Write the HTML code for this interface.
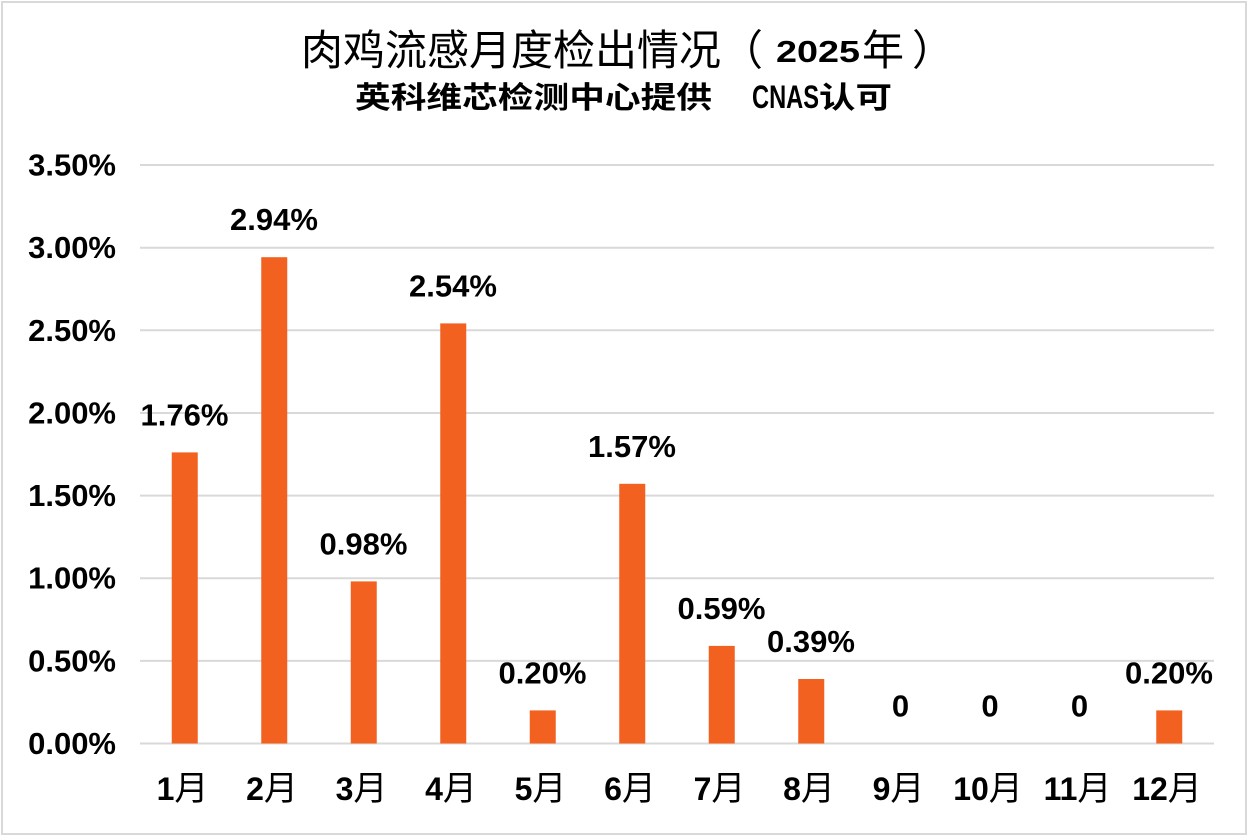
<!DOCTYPE html>
<html>
<head>
<meta charset="utf-8">
<style>
html,body{margin:0;padding:0;background:#fff;}
svg{display:block;}
.ax{font-family:"Liberation Sans","Noto Sans CJK SC",sans-serif;font-weight:700;font-size:31px;fill:#000;}
.cj{font-family:"Noto Sans CJK SC","WenQuanYi Zen Hei",sans-serif;}
</style>
</head>
<body>
<svg width="1248" height="837" viewBox="0 0 1248 837" xmlns="http://www.w3.org/2000/svg">
<rect x="0" y="0" width="1248" height="837" fill="#fff"/>
<rect x="2" y="2" width="1244" height="832" fill="none" stroke="#d9d9d9" stroke-width="2"/>

<!-- title -->
<text x="301" y="65" class="cj" font-size="42" textLength="420" lengthAdjust="spacingAndGlyphs" fill="#000">肉鸡流感月度检出情况</text>
<text x="721" y="65" class="cj" font-size="42" fill="#000">（</text>
<text x="776" y="62" font-family="'Liberation Sans',sans-serif" font-weight="700" font-size="31" textLength="84" lengthAdjust="spacingAndGlyphs" fill="#000">2025</text>
<text x="862" y="65" class="cj" font-size="42" fill="#000">年</text>
<text x="912" y="65" class="cj" font-size="42" fill="#000">）</text>

<!-- subtitle -->
<text x="355" y="108" class="cj" font-size="30" font-weight="700" textLength="357" lengthAdjust="spacingAndGlyphs" fill="#000">英科维芯检测中心提供</text>
<text x="752" y="108" font-family="'Liberation Sans',sans-serif" font-weight="700" font-size="32" textLength="67" lengthAdjust="spacingAndGlyphs" fill="#000">CNAS</text>
<text x="819" y="108" class="cj" font-size="30" font-weight="700" textLength="73" lengthAdjust="spacingAndGlyphs" fill="#000">认可</text>

<!-- gridlines -->
<g stroke="#d9d9d9" stroke-width="2">
<line x1="140" x2="1214" y1="165" y2="165"/>
<line x1="140" x2="1214" y1="247.7" y2="247.7"/>
<line x1="140" x2="1214" y1="330.3" y2="330.3"/>
<line x1="140" x2="1214" y1="413" y2="413"/>
<line x1="140" x2="1214" y1="495.6" y2="495.6"/>
<line x1="140" x2="1214" y1="578.2" y2="578.2"/>
<line x1="140" x2="1214" y1="660.9" y2="660.9"/>
<line x1="140" x2="1214" y1="743.5" y2="743.5"/>
</g>

<!-- y axis labels -->
<g class="ax" text-anchor="end">
<text x="116" y="175.5">3.50%</text>
<text x="116" y="258.2">3.00%</text>
<text x="116" y="340.8">2.50%</text>
<text x="116" y="423.5">2.00%</text>
<text x="116" y="506.1">1.50%</text>
<text x="116" y="588.7">1.00%</text>
<text x="116" y="671.4">0.50%</text>
<text x="116" y="754">0.00%</text>
</g>

<!-- bars -->
<g fill="#F26120">
<rect x="171.75" y="452.4" width="26" height="291.1"/>
<rect x="261.25" y="257.2" width="26" height="486.3"/>
<rect x="350.75" y="581.4" width="26" height="162.1"/>
<rect x="440.25" y="323.4" width="26" height="420.1"/>
<rect x="529.75" y="710.4" width="26" height="33.1"/>
<rect x="619.25" y="483.8" width="26" height="259.7"/>
<rect x="708.75" y="645.9" width="26" height="97.6"/>
<rect x="798.25" y="679" width="26" height="64.5"/>
<rect x="1156.25" y="710.4" width="26" height="33.1"/>
</g>

<!-- data labels -->
<g class="ax" text-anchor="middle">
<text x="184.5" y="425.4">1.76%</text>
<text x="274" y="230.2">2.94%</text>
<text x="363.5" y="554.4">0.98%</text>
<text x="453" y="296.4">2.54%</text>
<text x="542.5" y="683.4">0.20%</text>
<text x="632" y="456.8">1.57%</text>
<text x="721.5" y="618.9">0.59%</text>
<text x="811" y="652">0.39%</text>
<text x="900.5" y="716.5">0</text>
<text x="990" y="716.5">0</text>
<text x="1079.5" y="716.5">0</text>
<text x="1169" y="683.4">0.20%</text>
</g>

<!-- category labels -->
<g text-anchor="middle" fill="#000">
<text x="182.5" y="800"><tspan font-family="'Liberation Sans',sans-serif" font-weight="700" font-size="32">1</tspan><tspan class="cj" font-size="34">月</tspan></text>
<text x="272" y="800"><tspan font-family="'Liberation Sans',sans-serif" font-weight="700" font-size="32">2</tspan><tspan class="cj" font-size="34">月</tspan></text>
<text x="361.5" y="800"><tspan font-family="'Liberation Sans',sans-serif" font-weight="700" font-size="32">3</tspan><tspan class="cj" font-size="34">月</tspan></text>
<text x="451" y="800"><tspan font-family="'Liberation Sans',sans-serif" font-weight="700" font-size="32">4</tspan><tspan class="cj" font-size="34">月</tspan></text>
<text x="540.5" y="800"><tspan font-family="'Liberation Sans',sans-serif" font-weight="700" font-size="32">5</tspan><tspan class="cj" font-size="34">月</tspan></text>
<text x="630" y="800"><tspan font-family="'Liberation Sans',sans-serif" font-weight="700" font-size="32">6</tspan><tspan class="cj" font-size="34">月</tspan></text>
<text x="719.5" y="800"><tspan font-family="'Liberation Sans',sans-serif" font-weight="700" font-size="32">7</tspan><tspan class="cj" font-size="34">月</tspan></text>
<text x="809" y="800"><tspan font-family="'Liberation Sans',sans-serif" font-weight="700" font-size="32">8</tspan><tspan class="cj" font-size="34">月</tspan></text>
<text x="898.5" y="800"><tspan font-family="'Liberation Sans',sans-serif" font-weight="700" font-size="32">9</tspan><tspan class="cj" font-size="34">月</tspan></text>
<text x="988" y="800"><tspan font-family="'Liberation Sans',sans-serif" font-weight="700" font-size="32">10</tspan><tspan class="cj" font-size="34">月</tspan></text>
<text x="1077.5" y="800"><tspan font-family="'Liberation Sans',sans-serif" font-weight="700" font-size="32">11</tspan><tspan class="cj" font-size="34">月</tspan></text>
<text x="1167" y="800"><tspan font-family="'Liberation Sans',sans-serif" font-weight="700" font-size="32">12</tspan><tspan class="cj" font-size="34">月</tspan></text>
</g>
</svg>
</body>
</html>
